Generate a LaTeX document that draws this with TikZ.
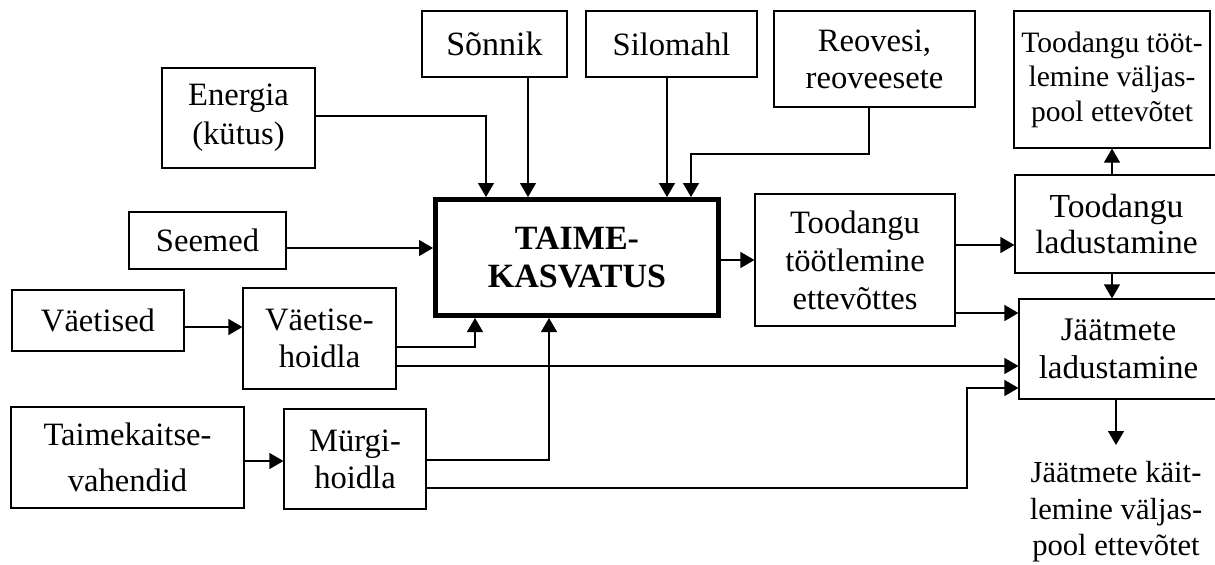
\documentclass[tikz,border=0pt]{standalone}
\usepackage{fontspec}
\setmainfont{Liberation Serif}
\usetikzlibrary{arrows.meta}
\begin{document}
\begin{tikzpicture}[x=0.5pt,y=-0.5pt,
  box/.style={draw,line width=0.6pt,inner sep=0pt,align=center,
    font=\fontsize{16.3}{18.5}\selectfont},
  arr/.style={line width=0.6pt,-{Triangle[length=7pt,width=8pt]}},
  ln/.style={line width=0.6pt}]
\useasboundingbox (0,0) rectangle (1215,564);
\clip (0,0) rectangle (1215,564);
% nodes
\node[box,minimum width=76.5pt,minimum height=50pt,font=\fontsize{16.3}{19.5}\selectfont] (energia) at (238.5,118) {Energia\\(kütus)};
\node[box,minimum width=78.5pt,minimum height=28.5pt] (seemed) at (207.5,240.5) {Seemed};
\node[box,minimum width=72.5pt,minimum height=33pt,font=\fontsize{17}{19}\selectfont] (sonnik) at (494.5,44) {Sõnnik};
\node[box,minimum width=85.5pt,minimum height=33pt] (silomahl) at (671.5,44) {Silomahl};
\node[box,minimum width=100.5pt,minimum height=48pt] (reovesi) at (874.5,59) {Reovesi,\\reoveesete};
\node[box,line width=2.5pt,minimum width=141.5pt,minimum height=58pt,
  font=\fontsize{17}{19}\selectfont\bfseries] (main) at (577,257.5) {TAIME-\\KASVATUS};
\node[box,minimum width=100pt,minimum height=66pt,font=\fontsize{16.3}{19}\selectfont] (tootl) at (855,260) {Toodangu\\töötlemine\\ettevõttes};
\node[box,minimum width=101.5pt,minimum height=49pt,font=\fontsize{16.8}{18}\selectfont] (toodlad) at (1116.5,224) {Toodangu\\ladustamine};
\node[box,minimum width=98pt,minimum height=68.5pt,font=\fontsize{14.8}{17.2}\selectfont] (toodval) at (1112,79.5) {Toodangu tööt-\\lemine väljas-\\pool ettevõtet};
\node[box,minimum width=99.5pt,minimum height=50pt,font=\fontsize{16.5}{19}\selectfont] (jaatlad) at (1118.5,349) {Jäätmete\\ladustamine};
\node[box,minimum width=86pt,minimum height=30.5pt] (vaetised) at (98,320.5) {Väetised};
\node[box,minimum width=76.5pt,minimum height=50.5pt] (vhoidla) at (319.5,338.5) {Väetise-\\hoidla};
\node[box,minimum width=116.5pt,minimum height=50.5pt,font=\fontsize{16.3}{23}\selectfont] (taimek) at (127.5,457.5) {Taimekaitse-\\vahendid};
\node[box,minimum width=71pt,minimum height=50pt] (murgi) at (355,459) {Mürgi-\\hoidla};
\node[align=center,inner sep=0pt,anchor=north,font=\fontsize{15.3}{18.3}\selectfont] (kait) at (1116,461) {Jäätmete käit-\\lemine väljas-\\pool ettevõtet};
% helper coordinates
\coordinate (eX) at (486,116);
\coordinate (sX) at (528,0);
\coordinate (slX) at (667,0);
\coordinate (r1) at (869,154);
\coordinate (r2) at (691,154);
\coordinate (sdY) at (0,248);
\coordinate (vY) at (0,327);
\coordinate (vh1) at (475,347);
\coordinate (vh2) at (0,366);
\coordinate (tY) at (0,461);
\coordinate (m1) at (549,460);
\coordinate (m2) at (967,488);
\coordinate (m3) at (967,388);
\coordinate (t1) at (0,245);
\coordinate (t2) at (0,313);
\coordinate (kt) at (1116,445);
% connectors
\draw[arr] (energia.east |- eX) -| (eX |- main.north);
\draw[arr] (sonnik.south -| sX) -- (sX |- main.north);
\draw[arr] (silomahl.south -| slX) -- (slX |- main.north);
\draw[arr] (reovesi.south -| r1) -- (r1) -- (r2) -- (r2 |- main.north);
\draw[arr] (seemed.east |- sdY) -- (main.west |- sdY);
\draw[arr] (vaetised.east |- vY) -- (vhoidla.west |- vY);
\draw[arr] (vhoidla.east |- vh1) -- (vh1) -- (vh1 |- main.south);
\draw[arr] (vhoidla.east |- vh2) -- (jaatlad.west |- vh2);
\draw[arr] (taimek.east |- tY) -- (murgi.west |- tY);
\draw[arr] (murgi.east |- m1) -- (m1) -- (m1 |- main.south);
\draw[arr] (murgi.east |- m2) -- (m2) -- (m3) -- (jaatlad.west |- m3);
\draw[arr] (main.east |- tootl.west) -- (tootl.west);
\draw[arr] (tootl.east |- t1) -- (toodlad.west |- t1);
\draw[arr] (tootl.east |- t2) -- (jaatlad.west |- t2);
\draw[arr] (toodlad.north -| toodval.south) -- (toodval.south);
\draw[arr] (toodlad.south -| toodval.south) -- (jaatlad.north -| toodval.south);
\draw[arr] (jaatlad.south -| kt) -- (kt);
\end{tikzpicture}
\end{document}
